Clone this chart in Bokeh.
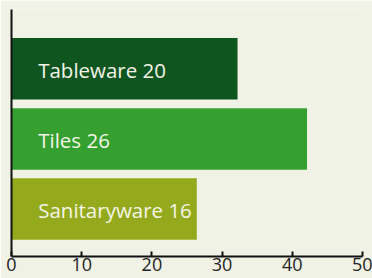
from bokeh.plotting import figure
from bokeh.models import Range1d, FixedTicker, ColumnDataSource
from bokeh.core.properties import value
from bokeh.embed import file_html
from bokeh.resources import INLINE

categories = ["Tableware", "Tiles", "Sanitaryware"]
bar_values = [32.2, 42.1, 26.4]
label_values = [20, 26, 16]
colors = ["#0f5520", "#35a02f", "#94aa1c"]
x_ticks = [0, 10, 20, 30, 40, 50]

FONT = "Open Sans"
n = len(categories)
ypos = [n - i for i in range(n)]
labels = [f"{c} {v}" for c, v in zip(categories, label_values)]
src = ColumnDataSource(dict(y=ypos, right=bar_values, color=colors,
                            label=labels, lx=[3.8] * n))

p = figure(frame_width=351, frame_height=247, output_backend="svg",
           toolbar_location=None,
           x_range=Range1d(0, 50), y_range=Range1d(0.322, 3.847),
           min_border_left=11, min_border_right=10, min_border_top=9,
           min_border_bottom=22)
p.background_fill_color = "#f1f2e6"
p.border_fill_color = "#f1f2e6"
p.outline_line_color = None
p.grid.visible = False

p.hbar(y="y", left=0, right="right", height=0.878, color="color",
       line_color=None, source=src)
p.text(x="lx", y="y", text="label", source=src, text_color="#f4f4e8",
       text_font=value(FONT), text_font_size="20.5px", text_baseline="middle",
       text_align="left", y_offset=1)

p.xaxis.ticker = FixedTicker(ticks=x_ticks)
p.xaxis.axis_line_width = 2
p.xaxis.axis_line_color = "#111111"
p.xaxis.major_tick_in = 5
p.xaxis.major_tick_out = 0
p.xaxis.major_tick_line_width = 2
p.xaxis.major_tick_line_color = "#111111"
p.xaxis.minor_tick_line_color = None
p.xaxis.major_label_text_font = FONT
p.xaxis.major_label_text_font_size = "18px"
p.xaxis.major_label_text_color = "#222222"
p.xaxis.major_label_standoff = 1

p.yaxis.ticker = FixedTicker(ticks=[])
p.yaxis.axis_line_width = 2
p.yaxis.axis_line_color = "#111111"
p.yaxis.major_tick_line_color = None
p.yaxis.minor_tick_line_color = None
p.yaxis.major_tick_out = 0
p.yaxis.major_tick_in = 0
p.yaxis.major_label_text_font_size = "0px"
p.yaxis.major_label_standoff = 0

open("out.html", "w").write(file_html(p, INLINE))
